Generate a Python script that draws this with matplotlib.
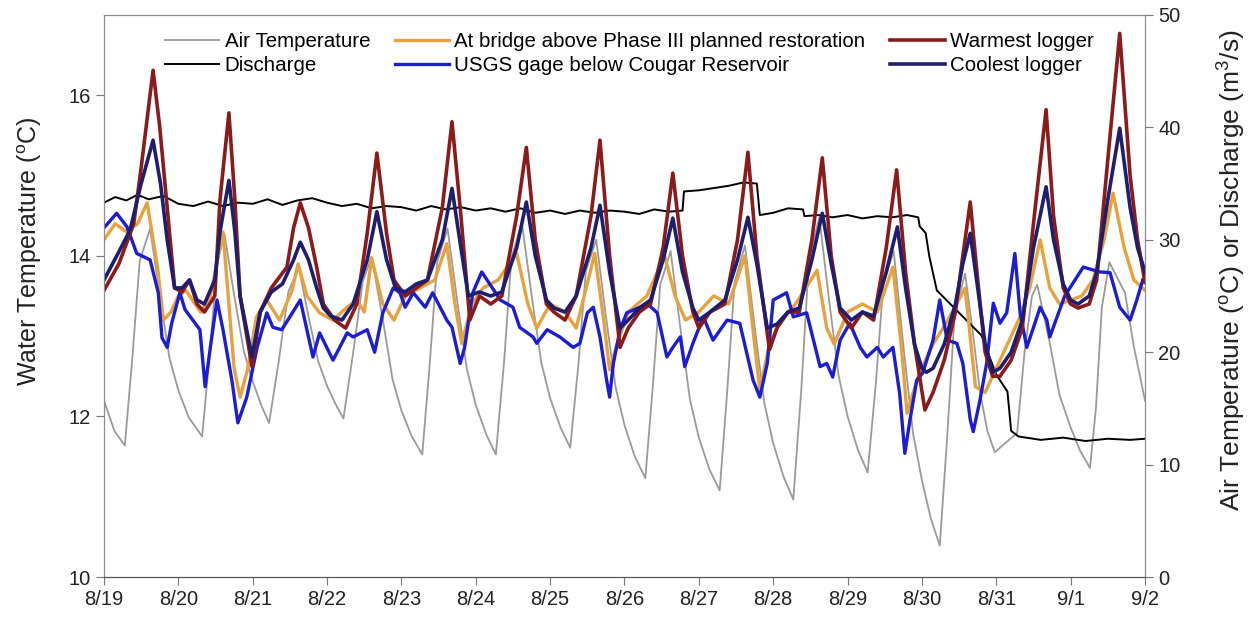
"""Stream temperature vs air temperature and discharge, 8/19 - 9/2."""

import matplotlib
matplotlib.use("Agg")
import matplotlib.pyplot as plt

plt.rcParams.update({
    "font.family": "Liberation Sans",
    "mathtext.default": "regular",
})

# x axis: days since 8/19 00:00
DAY_LABELS = ["8/19", "8/20", "8/21", "8/22", "8/23", "8/24", "8/25", "8/26",
              "8/27", "8/28", "8/29", "8/30", "8/31", "9/1", "9/2"]

# (day, value) pairs
# right axis (deg C / m3/s)
AIR_TEMP = [
    (0, 15.7), (0.14, 13.0), (0.28, 11.7), (0.38, 19.4), (0.48, 28.1), (0.62, 31.0),
    (0.75, 25.1), (0.88, 19.5), (1.0, 16.6), (1.14, 14.2), (1.32, 12.5), (1.42, 19.7), (1.52, 27.8), (1.62, 30.5),
    (1.75, 25.1), (1.88, 20.1), (2.0, 17.4), (2.12, 15.2), (2.22, 13.7), (2.35, 19.2), (2.48, 25.4), (2.62, 27.5),
    (2.75, 23.2), (2.88, 19.2), (3.0, 17.0), (3.12, 15.3), (3.22, 14.1), (3.35, 19.9), (3.48, 26.3), (3.6, 28.5),
    (3.75, 22.9), (3.88, 17.6), (4.0, 14.8), (4.14, 12.5), (4.28, 10.9), (4.38, 18.9), (4.48, 28.0), (4.62, 31.0),
    (4.75, 24.6), (4.88, 18.5), (5.0, 15.3), (5.14, 12.7), (5.27, 10.9), (5.38, 19.1), (5.48, 28.4), (5.62, 31.5),
    (5.75, 25.1), (5.88, 19.1), (6.0, 15.9), (6.14, 13.3), (6.27, 11.5), (6.38, 18.9), (6.48, 27.2), (6.62, 30.0),
    (6.75, 23.2), (6.88, 16.9), (7.0, 13.5), (7.14, 10.7), (7.28, 8.8), (7.38, 16.9), (7.48, 26.0), (7.62, 29.0),
    (7.75, 22.2), (7.88, 15.8), (8.0, 12.4), (8.14, 9.6), (8.28, 7.7), (8.38, 16.4), (8.48, 26.2), (8.62, 29.5),
    (8.75, 22.3), (8.88, 15.5), (9.0, 11.9), (9.14, 8.9), (9.27, 6.9), (9.38, 16.9), (9.48, 28.2), (9.62, 32.0),
    (9.75, 24.7), (9.88, 17.9), (10.0, 14.3), (10.14, 11.3), (10.27, 9.3), (10.38, 17.2), (10.48, 26.0), (10.62, 29.0),
    (10.75, 20.6), (10.88, 12.8), (11.0, 8.6), (11.12, 5.2), (11.24, 2.8), (11.34, 12.5), (11.44, 23.4), (11.58, 27.0),
    (11.68, 22.0), (11.78, 16.5), (11.88, 13.0), (11.98, 11.1), (12.1, 11.8), (12.28, 12.8), (12.38, 20.0),
    (12.48, 25.0), (12.55, 26.0),
    (12.72, 20.8), (12.85, 16.2), (13.0, 13.3), (13.13, 11.2), (13.26, 9.7), (13.34, 15.0), (13.42, 24.0), (13.52, 28.0),
    (13.73, 25.3), (13.85, 20.5), (14.0, 15.7),
]

DISCHARGE = [
    (0, 33.3), (0.15, 33.8), (0.3, 33.5), (0.45, 34.0), (0.6, 33.6), (0.8, 33.9), (1.0, 33.2), (1.2, 33.0),
    (1.4, 33.4), (1.6, 33.0), (1.8, 33.3), (2.0, 33.2), (2.2, 33.6), (2.4, 33.1), (2.6, 33.5), (2.8, 33.7),
    (3.0, 33.3), (3.2, 33.0), (3.4, 33.2), (3.6, 32.8), (3.8, 33.0), (4.0, 32.9), (4.2, 32.6), (4.4, 33.0),
    (4.6, 32.7), (4.8, 32.9), (5.0, 32.6), (5.2, 32.8), (5.4, 32.5), (5.6, 32.8), (5.8, 32.4), (6.0, 32.6),
    (6.2, 32.3), (6.4, 32.6), (6.6, 32.4), (6.8, 32.6), (7.0, 32.5), (7.2, 32.3), (7.4, 32.7), (7.6, 32.5),
    (7.78, 32.6), (7.8, 34.3), (8.0, 34.4), (8.2, 34.6), (8.4, 34.8), (8.6, 35.1), (8.78, 35.0), (8.82, 32.2),
    (9.0, 32.4), (9.2, 32.8), (9.4, 32.7), (9.42, 32.1), (9.6, 32.2), (9.8, 32.0), (10.0, 32.2), (10.2, 31.9),
    (10.4, 32.1), (10.6, 32.0), (10.8, 32.2), (10.95, 32.0), (10.97, 31.2), (11.05, 30.6), (11.1, 28.5),
    (11.2, 25.5), (11.5, 23.5), (11.8, 21.5), (12.0, 18.0), (12.15, 16.5), (12.2, 13.0), (12.3, 12.5),
    (12.6, 12.2), (12.9, 12.4), (13.2, 12.1), (13.5, 12.3), (13.8, 12.2), (14.0, 12.3),
]

# left axis (water temperature, deg C)
BRIDGE = [
    (0, 14.2), (0.15, 14.4), (0.3, 14.3), (0.45, 14.4), (0.58, 14.66), (0.72, 13.86), (0.8, 13.2), (0.9, 13.3),
    (1.0, 13.5), (1.1, 13.57), (1.3, 13.3), (1.43, 13.5), (1.6, 14.3), (1.75, 12.6), (1.83, 12.24), (1.93, 12.58),
    (2.05, 13.24), (2.19, 13.45), (2.36, 13.2), (2.53, 13.57), (2.61, 13.9), (2.73, 13.5), (2.9, 13.29),
    (3.08, 13.2), (3.27, 13.36), (3.4, 13.45), (3.5, 13.3), (3.6, 13.97), (3.75, 13.4), (3.9, 13.2), (4.05, 13.5),
    (4.25, 13.6), (4.45, 13.7), (4.61, 14.15), (4.72, 13.4), (4.81, 12.91), (4.95, 13.4), (5.1, 13.6), (5.3, 13.7),
    (5.55, 14.03), (5.7, 13.4), (5.82, 13.1), (6.0, 13.4), (6.2, 13.3), (6.35, 13.1), (6.6, 14.03), (6.72, 13.2),
    (6.8, 12.58), (6.9, 12.9), (7.05, 13.3), (7.3, 13.5), (7.54, 14.0), (7.68, 13.5), (7.82, 13.2), (8.0, 13.3),
    (8.2, 13.5), (8.4, 13.4), (8.62, 14.0), (8.75, 12.9), (8.82, 12.33), (8.95, 12.9), (9.1, 13.2), (9.3, 13.4),
    (9.59, 13.82), (9.72, 13.1), (9.82, 12.9), (10.0, 13.3), (10.2, 13.4), (10.4, 13.3), (10.61, 13.86),
    (10.72, 12.9), (10.8, 12.04), (10.95, 12.5), (11.15, 12.9), (11.35, 13.2), (11.58, 13.6), (11.66, 12.9),
    (11.72, 12.37), (11.85, 12.3), (12.0, 12.6), (12.15, 12.9), (12.3, 13.2), (12.45, 13.6), (12.59, 14.2),
    (12.72, 13.6), (12.85, 13.4), (13.0, 13.45), (13.15, 13.5), (13.3, 13.7), (13.45, 14.2), (13.57, 14.78),
    (13.72, 14.1), (13.85, 13.7), (14.0, 13.57),
]

USGS = [
    (0.01, 14.36), (0.17, 14.53), (0.31, 14.36), (0.44, 14.03), (0.62, 13.95), (0.73, 13.54), (0.78, 12.98),
    (0.85, 12.86), (0.91, 13.16), (1.02, 13.54), (1.09, 13.33), (1.29, 13.08), (1.36, 12.37), (1.43, 12.86),
    (1.52, 13.45), (1.6, 13.08), (1.72, 12.45), (1.8, 11.92), (1.92, 12.24), (2.06, 12.86), (2.19, 13.29),
    (2.27, 13.11), (2.39, 13.08), (2.5, 13.24), (2.64, 13.45), (2.81, 12.74), (2.9, 13.04), (3.08, 12.7),
    (3.27, 13.04), (3.35, 12.99), (3.54, 13.08), (3.64, 12.8), (3.75, 13.29), (3.89, 13.6), (3.98, 13.54),
    (4.05, 13.36), (4.16, 13.54), (4.32, 13.36), (4.42, 13.54), (4.61, 13.2), (4.68, 13.11), (4.79, 12.66),
    (4.85, 12.86), (4.96, 13.54), (5.08, 13.8), (5.33, 13.45), (5.5, 13.36), (5.59, 13.11), (5.77, 12.99),
    (5.82, 12.91), (5.96, 13.08), (6.13, 12.99), (6.31, 12.86), (6.4, 12.91), (6.5, 13.29), (6.58, 13.36),
    (6.67, 12.99), (6.76, 12.45), (6.8, 12.24), (6.85, 12.66), (6.94, 13.08), (7.03, 13.29), (7.21, 13.36),
    (7.3, 13.41), (7.44, 13.29), (7.57, 12.74), (7.65, 12.86), (7.75, 12.99), (7.81, 12.62), (7.92, 12.91),
    (8.06, 13.24), (8.19, 12.95), (8.38, 13.2), (8.55, 13.16), (8.73, 12.45), (8.82, 12.24), (8.92, 12.66),
    (9.0, 13.45), (9.18, 13.54), (9.27, 13.24), (9.45, 13.29), (9.63, 12.62), (9.72, 12.66), (9.8, 12.49),
    (9.9, 12.95), (10.03, 13.16), (10.17, 12.86), (10.26, 12.74), (10.4, 12.86), (10.48, 12.74), (10.61, 12.86),
    (10.7, 12.29), (10.77, 11.54), (10.84, 11.96), (10.93, 12.45), (11.01, 12.54), (11.15, 12.95), (11.24, 13.45),
    (11.34, 12.95), (11.47, 12.91), (11.55, 12.66), (11.65, 11.96), (11.69, 11.81), (11.78, 12.2), (11.87, 12.66),
    (11.96, 13.41), (12.05, 13.16), (12.14, 13.29), (12.25, 14.03), (12.32, 13.29), (12.41, 12.86), (12.49, 13.08),
    (12.59, 13.36), (12.68, 13.2), (12.72, 12.99), (12.92, 13.5), (13.17, 13.86), (13.39, 13.8), (13.53, 13.79),
    (13.66, 13.36), (13.8, 13.2), (13.89, 13.45), (13.97, 13.7),
]

WARMEST = [
    (0, 13.57), (0.2, 13.9), (0.4, 14.4), (0.5, 15.1), (0.66, 16.31), (0.75, 15.6), (0.85, 14.6), (0.95, 13.6),
    (1.05, 13.55), (1.15, 13.7), (1.25, 13.4), (1.35, 13.3), (1.49, 13.5), (1.56, 14.7), (1.68, 15.78),
    (1.76, 14.7), (1.83, 13.5), (1.99, 12.62), (2.1, 13.3), (2.25, 13.6), (2.46, 13.86), (2.55, 14.35),
    (2.64, 14.66), (2.75, 14.35), (2.86, 13.86), (2.95, 13.4), (3.1, 13.2), (3.25, 13.1), (3.4, 13.4),
    (3.54, 14.28), (3.67, 15.28), (3.8, 14.28), (3.9, 13.7), (4.05, 13.5), (4.2, 13.6), (4.35, 13.7),
    (4.55, 14.6), (4.68, 15.67), (4.8, 14.5), (4.92, 13.2), (5.05, 13.5), (5.2, 13.4), (5.35, 13.5),
    (5.55, 14.5), (5.68, 15.35), (5.8, 14.2), (5.95, 13.4), (6.05, 13.3), (6.2, 13.2), (6.35, 13.5),
    (6.55, 14.5), (6.67, 15.44), (6.8, 14.0), (6.94, 12.86), (7.05, 13.1), (7.2, 13.3), (7.35, 13.4),
    (7.52, 14.1), (7.65, 15.03), (7.78, 14.0), (7.92, 13.3), (8.0, 13.1), (8.15, 13.3), (8.35, 13.4),
    (8.52, 14.2), (8.66, 15.29), (8.78, 14.0), (8.95, 12.83), (9.05, 13.1), (9.2, 13.3), (9.35, 13.3),
    (9.52, 14.2), (9.66, 15.22), (9.78, 14.0), (9.9, 13.3), (10.05, 13.1), (10.2, 13.3), (10.35, 13.2),
    (10.52, 14.1), (10.66, 15.07), (10.78, 13.8), (10.9, 12.9), (11.04, 12.08), (11.15, 12.3), (11.3, 12.7),
    (11.45, 13.3), (11.55, 14.0), (11.65, 14.67), (11.75, 13.7), (11.85, 12.8), (11.95, 12.5), (12.05, 12.5),
    (12.2, 12.7), (12.35, 13.1), (12.5, 14.4), (12.67, 15.82), (12.77, 14.5), (12.9, 13.6), (13.0, 13.4),
    (13.1, 13.35), (13.25, 13.4), (13.35, 13.7), (13.5, 15.2), (13.66, 16.77), (13.8, 15.0), (13.9, 14.2),
    (14.0, 13.67),
]

COOLEST = [
    (0, 13.7), (0.2, 14.05), (0.35, 14.32), (0.5, 14.9), (0.66, 15.44), (0.76, 14.9), (0.85, 14.2), (0.95, 13.6),
    (1.05, 13.6), (1.15, 13.7), (1.25, 13.45), (1.35, 13.4), (1.49, 13.7), (1.56, 14.3), (1.68, 14.94),
    (1.76, 14.3), (1.83, 13.5), (1.99, 12.74), (2.1, 13.3), (2.25, 13.55), (2.4, 13.65), (2.55, 13.95),
    (2.64, 14.17), (2.75, 13.95), (2.86, 13.6), (2.95, 13.35), (3.05, 13.25), (3.2, 13.2), (3.35, 13.4),
    (3.54, 13.95), (3.67, 14.55), (3.8, 13.95), (3.92, 13.6), (4.05, 13.55), (4.2, 13.65), (4.35, 13.7),
    (4.55, 14.2), (4.68, 14.84), (4.8, 14.1), (4.9, 13.5), (5.05, 13.55), (5.2, 13.5), (5.35, 13.55),
    (5.55, 14.1), (5.68, 14.67), (5.8, 14.0), (5.95, 13.45), (6.05, 13.35), (6.2, 13.3), (6.35, 13.5),
    (6.55, 14.1), (6.67, 14.63), (6.8, 13.8), (6.94, 13.1), (7.05, 13.2), (7.2, 13.35), (7.35, 13.45),
    (7.52, 13.95), (7.65, 14.47), (7.78, 13.8), (7.92, 13.35), (8.0, 13.2), (8.15, 13.3), (8.35, 13.45),
    (8.52, 13.95), (8.66, 14.48), (8.78, 13.9), (8.92, 13.1), (9.05, 13.15), (9.2, 13.3), (9.35, 13.35),
    (9.52, 13.95), (9.66, 14.53), (9.78, 13.9), (9.9, 13.35), (10.05, 13.2), (10.2, 13.3), (10.35, 13.25),
    (10.52, 13.8), (10.67, 14.36), (10.78, 13.6), (10.9, 12.9), (11.0, 12.6), (11.06, 12.55), (11.15, 12.6),
    (11.3, 12.9), (11.45, 13.4), (11.55, 13.9), (11.65, 14.28), (11.75, 13.6), (11.85, 12.9), (11.95, 12.55),
    (12.05, 12.6), (12.2, 12.8), (12.35, 13.2), (12.5, 14.1), (12.67, 14.86), (12.77, 14.2), (12.9, 13.65),
    (13.0, 13.45), (13.1, 13.4), (13.25, 13.5), (13.35, 13.8), (13.5, 14.7), (13.66, 15.59), (13.8, 14.6),
    (13.9, 14.1), (14.0, 13.8),
]


def split(pairs):
    return [p[0] for p in pairs], [p[1] for p in pairs]


fig = plt.figure(figsize=(12.5, 6.23), dpi=100)
# host axes carries the right-hand scale so the water lines (twin) draw on top
ax = fig.add_axes([0.0832, 0.0738, 0.8328, 0.9022])
ax2 = ax.twinx()

h_air, = ax.plot(*split(AIR_TEMP), color="#9a9a9a", lw=1.3, label="Air Temperature")
h_dis, = ax.plot(*split(DISCHARGE), color="black", lw=1.4, label="Discharge")

h_br, = ax2.plot(*split(BRIDGE), color="#E6A23C", lw=2.4,
                 label="At bridge above Phase III planned restoration")
h_us, = ax2.plot(*split(USGS), color="#1c1cd2", lw=2.4, label="USGS gage below Cougar Reservoir")
h_wa, = ax2.plot(*split(WARMEST), color="#8b1a1a", lw=2.6, label="Warmest logger")
h_co, = ax2.plot(*split(COOLEST), color="#1e1e6e", lw=2.6, label="Coolest logger")

ax.set_xlim(0, 14)
ax.set_ylim(0, 50)
ax2.set_ylim(10, 17)
ax.set_xticks(range(len(DAY_LABELS)))
ax.set_xticklabels(DAY_LABELS)
ax.set_yticks([0, 10, 20, 30, 40, 50])
ax2.set_yticks([10, 12, 14, 16])

# swap sides: host scale on the right, water temperature on the left
ax.yaxis.tick_right()
ax.yaxis.set_label_position("right")
ax2.yaxis.tick_left()
ax2.yaxis.set_label_position("left")

for a in (ax, ax2):
    for side in ("top", "right", "left"):
        a.spines[side].set_color("#8c8c8c")
    a.spines["bottom"].set_color("#555555")
    a.tick_params(length=6, color="#777777", labelsize=14.5, labelcolor="#222222")

ax2.set_ylabel(r"Water Temperature ($^{o}$C)", fontsize=18, color="#222222")
ax2.yaxis.set_label_coords(-0.058, 0.58)
ax.set_ylabel(r"Air Temperature ($^{o}$C) or Discharge (m$^{3}$/s)", fontsize=19, color="#222222")
ax.yaxis.set_label_coords(1.068, 0.545)

fig.legend([h_air, h_dis, h_br, h_us, h_wa, h_co],
           [h.get_label() for h in (h_air, h_dis, h_br, h_us, h_wa, h_co)],
           ncol=3, loc="upper left", bbox_to_anchor=(0.132, 0.948),
           frameon=False, fontsize=14.8, handlelength=2.65, handletextpad=0.25,
           columnspacing=1.2, labelspacing=0.22, borderpad=0, borderaxespad=0)

fig.savefig("out.png", dpi=100, facecolor="white")
